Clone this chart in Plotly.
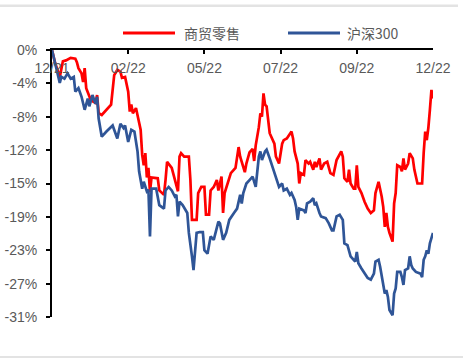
import plotly.graph_objects as go

# Cumulative return (%) by trading day since the start of the period
retail_day = [0, 2, 5, 7, 9, 12, 15, 16, 17, 19, 20, 21, 22, 24, 25, 28, 29, 30, 32, 38,
              40, 42, 44, 45, 47, 49, 50, 51, 52, 54, 55, 57, 58, 59, 60, 61, 62, 63, 64, 68,
              69, 72, 73, 74, 77, 79, 81, 82, 83, 85, 88, 89, 90, 93, 94, 96, 98, 99, 101, 102,
              104, 106, 107, 109, 110, 111, 113, 115, 118, 120, 121, 124, 125, 127, 129, 130, 131, 133, 134, 135,
              136, 137, 138, 140, 141, 143, 144, 146, 148, 149, 151, 153, 154, 155, 156, 158, 159, 160, 162, 163,
              165, 166, 168, 169, 170, 172, 173, 175, 177, 179, 181, 183, 185, 186, 187, 188, 190, 191, 192, 194,
              195, 196, 197, 199, 201, 203, 205, 207, 208, 209, 210, 212, 213, 214, 215, 216, 217, 219, 220, 221,
              222, 224, 225, 226, 227, 229, 230, 232, 233, 235, 238, 239, 240, 241, 242, 243, 244, 245]
retail_pct = [0.0, -1.5, -3.1, -1.3, -1.2, -0.9, -1.0, -1.4, -2.1, -2.7, -3.7, -2.1, -4.4, -5.2, -5.8, -6.1, -5.2, -7.3, -7.5, -6.3,
              -2.9, -2.3, -2.5, -3.2, -3.1, -4.8, -7.1, -6.3, -7.3, -6.7, -7.5, -9.2, -12.1, -13.3, -11.9, -14.7, -13.6, -16.4, -14.7, -14.8,
              -16.2, -16.7, -15.0, -12.9, -13.6, -15.0, -16.3, -12.3, -11.9, -12.3, -12.3, -15.0, -19.6, -19.6, -16.5, -15.8, -15.8, -19.0, -19.0, -16.2,
              -15.8, -15.0, -16.2, -14.6, -18.8, -16.5, -15.4, -14.2, -13.6, -11.2, -12.3, -14.1, -13.1, -11.8, -11.4, -12.8, -11.0, -8.9, -7.3, -7.7,
              -5.0, -6.3, -6.5, -9.6, -10.0, -10.8, -12.3, -13.1, -10.8, -10.4, -10.2, -9.6, -9.4, -10.2, -11.7, -13.1, -15.4, -14.2, -14.4, -12.7,
              -13.1, -12.9, -13.8, -12.9, -13.5, -12.5, -13.8, -13.1, -12.9, -14.2, -14.4, -12.7, -12.1, -11.7, -12.3, -14.8, -15.2, -13.8, -15.4, -16.0,
              -16.0, -13.3, -15.8, -16.5, -17.5, -18.3, -18.8, -18.5, -16.5, -15.8, -15.2, -16.9, -18.1, -20.4, -18.8, -20.4, -21.1, -22.1, -17.7, -16.5,
              -13.3, -13.5, -14.0, -12.5, -13.8, -13.1, -11.9, -12.5, -13.8, -15.4, -15.4, -11.9, -9.4, -10.4, -9.0, -6.9, -4.6, -5.6]

hs300_day = [0, 3, 5, 6, 8, 10, 12, 14, 15, 17, 19, 21, 23, 24, 26, 28, 29, 30, 32, 35,
             39, 42, 44, 46, 47, 49, 51, 53, 55, 56, 58, 59, 61, 62, 63, 64, 67, 69, 72, 73,
             75, 77, 79, 80, 81, 82, 84, 87, 88, 90, 91, 93, 95, 97, 98, 100, 102, 104, 105, 107,
             108, 110, 112, 114, 117, 119, 121, 122, 123, 125, 127, 129, 131, 132, 133, 134, 135, 137, 138, 140,
             141, 143, 144, 146, 148, 149, 151, 153, 154, 156, 157, 158, 159, 162, 163, 164, 166, 168, 169, 170,
             172, 173, 176, 178, 180, 181, 183, 185, 187, 188, 190, 192, 194, 195, 196, 197, 199, 201, 203, 205,
             207, 208, 210, 211, 212, 214, 215, 216, 217, 219, 220, 221, 222, 224, 225, 226, 227, 229, 230, 231,
             232, 234, 237, 238, 239, 240, 241, 242, 243, 244, 245]
hs300_pct = [0.0, -2.1, -3.8, -3.1, -3.3, -2.7, -3.3, -3.1, -4.8, -4.4, -5.4, -6.9, -5.6, -6.5, -5.2, -6.2, -5.4, -7.9, -10.0, -9.4,
             -8.7, -10.2, -8.5, -9.0, -8.7, -10.6, -9.2, -9.4, -11.7, -14.0, -16.0, -15.2, -16.3, -16.1, -21.5, -16.0, -16.0, -17.9, -18.3, -16.2,
             -15.8, -16.2, -16.9, -16.7, -19.2, -17.5, -17.9, -18.8, -21.1, -23.8, -25.4, -21.1, -21.0, -21.0, -23.1, -23.5, -21.5, -21.9, -21.1, -19.8,
             -20.0, -21.9, -21.1, -19.6, -18.8, -18.3, -16.7, -17.7, -16.5, -15.4, -15.0, -14.6, -15.8, -13.8, -12.3, -11.7, -12.7, -11.7, -11.5, -12.5,
             -13.1, -14.2, -14.8, -15.8, -15.4, -16.2, -16.0, -16.7, -16.5, -17.3, -18.1, -19.6, -18.3, -18.5, -18.8, -17.7, -17.5, -17.1, -17.9, -17.7,
             -18.8, -19.2, -19.4, -20.0, -20.8, -20.8, -19.2, -19.0, -19.6, -22.3, -22.5, -23.8, -24.2, -24.4, -23.3, -24.6, -25.2, -25.8, -26.3, -26.5,
             -25.8, -24.4, -24.2, -25.0, -26.2, -28.1, -27.7, -28.5, -30.0, -30.6, -28.1, -27.5, -25.6, -25.6, -26.2, -27.1, -25.4, -25.2, -23.8, -24.8,
             -25.2, -25.6, -25.8, -26.2, -24.2, -23.8, -23.1, -23.5, -22.3, -21.8, -21.1]

series_names = ["商贸零售", "沪深300"]
series_colors = ["#FF0000", "#2F5597"]

x_tick_days = [0, 49, 98, 147, 196, 245]
x_tick_labels = ["12/21", "02/22", "05/22", "07/22", "09/22", "12/22"]
y_tick_vals = [0, -3.85, -7.7, -11.55, -15.4, -19.25, -23.1, -26.95, -30.8]
y_tick_labels = ["0%", "-4%", "-8%", "-12%", "-15%", "-19%", "-23%", "-27%", "-31%"]

W, H = 463, 358
L, R, T, B = 52, 30, 50, 41
PW, PH = W - L - R, H - T - B


def px(x):
    return (x - L) / PW


def py(y):
    return (H - B - y) / PH


fig = go.Figure()
fig.add_trace(go.Scatter(x=retail_day, y=retail_pct, mode="lines", name=series_names[0],
                         line=dict(color=series_colors[0], width=2.7), showlegend=False))
fig.add_trace(go.Scatter(x=hs300_day, y=hs300_pct, mode="lines", name=series_names[1],
                         line=dict(color=series_colors[1], width=2.7), showlegend=False))

tick_font = dict(family="Arial, Liberation Sans, sans-serif", size=14, color="#595959")

fig.update_layout(
    width=W, height=H, autosize=False,
    margin=dict(l=L, r=R, t=T, b=B),
    paper_bgcolor="white", plot_bgcolor="white",
    xaxis=dict(range=[0, 245], side="top", showline=True, linecolor="black", linewidth=2,
               ticks="inside", ticklen=4, tickwidth=2, tickcolor="black",
               tickvals=x_tick_days, ticktext=x_tick_labels, automargin=False,
               ticklabelposition="inside", ticklabeloverflow="allow", ticklabelstandoff=9,
               showgrid=False, zeroline=False, tickfont=tick_font),
    yaxis=dict(range=[-30.8, 0], showline=True, linecolor="black", linewidth=2,
               ticks="outside", ticklen=4, tickwidth=2, tickcolor="black",
               tickvals=y_tick_vals, ticktext=y_tick_labels, ticklabelstandoff=6,
               automargin=False, showgrid=False, zeroline=False, tickfont=tick_font),
)

# Legend drawn by hand: line samples and captions above the plot
legend_font = dict(family="Noto Sans CJK SC, sans-serif", size=14, color="#595959")
legend_items = [(123, 175, 182), (288, 340, 345)]
for (x0, x1, xt), name, color in zip(legend_items, series_names, series_colors):
    fig.add_shape(type="line", xref="paper", yref="paper",
                  x0=px(x0), x1=px(x1), y0=py(33), y1=py(33),
                  line=dict(color=color, width=3))
    fig.add_annotation(xref="paper", yref="paper", x=px(xt), y=py(33),
                       xanchor="left", yanchor="middle", text=name,
                       showarrow=False, font=legend_font)

# Light grey rules framing the figure
fig.add_shape(type="rect", xref="paper", yref="paper", x0=px(0), x1=px(458),
              y0=py(4.5), y1=py(7), line=dict(width=0), fillcolor="#E3E3E3")
fig.add_shape(type="rect", xref="paper", yref="paper", x0=px(0), x1=px(463),
              y0=py(356), y1=py(358), line=dict(width=0), fillcolor="#E3E3E3")

fig.write_html("out.html")
